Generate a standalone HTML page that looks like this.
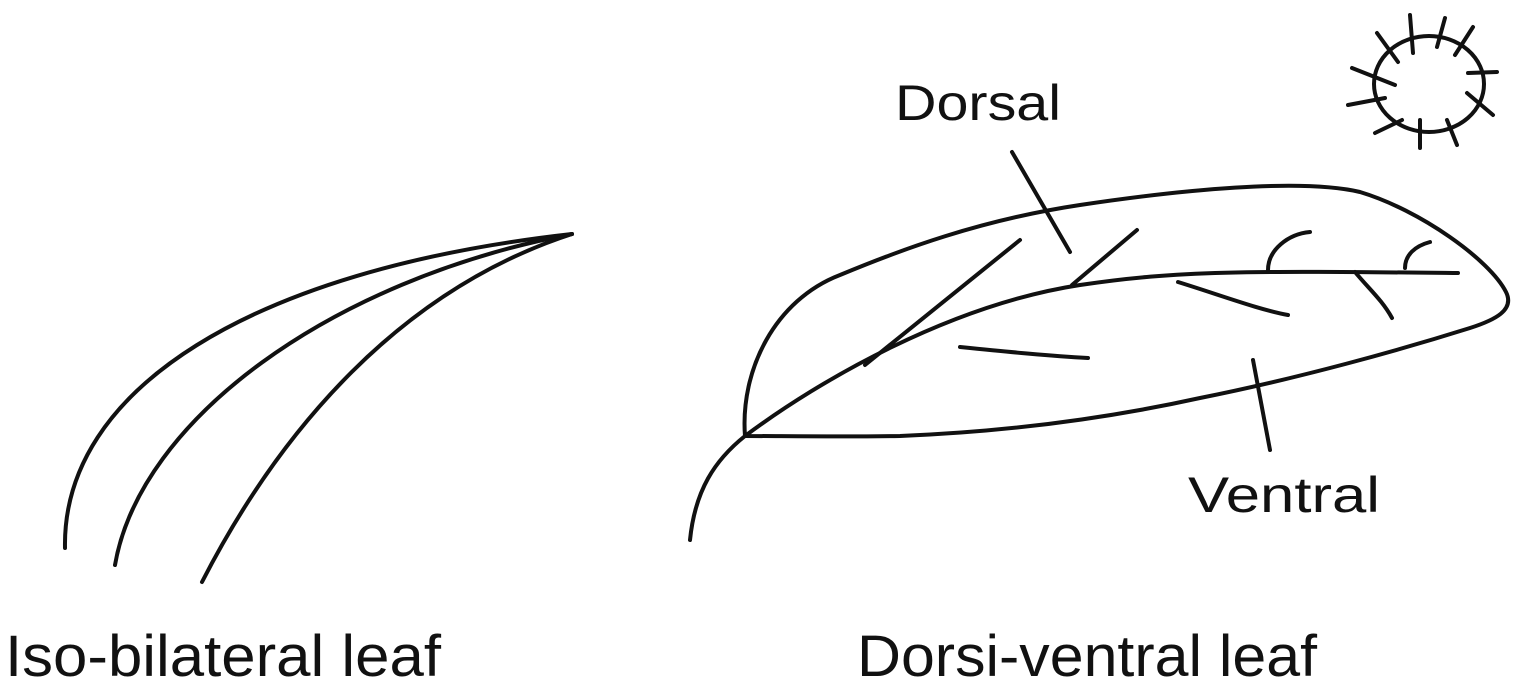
<!DOCTYPE html>
<html><head><meta charset="utf-8"><style>
html,body{margin:0;padding:0;background:#fff;}
svg{display:block}
text{font-family:"Liberation Sans",sans-serif;fill:#111;}
</style></head><body>
<svg width="1528" height="693" viewBox="0 0 1528 693">
<g fill="none" stroke="#111" stroke-width="4" stroke-linecap="round">
  <g>
    <path d="M65,548 C62,390 250,270 572,234"/>
    <path d="M115,565 C140,420 330,280 572,234"/>
    <path d="M202,582 C280,430 400,290 572,234"/>
  </g>
  <g>
    <path d="M745,436 C740,370 775,300 840,275 C900,250 980,220 1080,205 C1180,190 1300,178 1360,192 C1420,210 1490,260 1506,292 C1515,310 1495,320 1470,328 C1400,350 1300,378 1200,398 C1100,420 1000,432 900,436 C840,437 780,436 745,436 Z"/>
    <path d="M690,540 C695,490 715,460 745,436 C820,380 950,305 1080,285 C1180,270 1250,271 1458,273"/>
    <path d="M865,365 L1020,240"/>
    <path d="M1072,285 L1137,230"/>
    <path d="M960,347 C1010,352 1050,356 1088,358"/>
    <path d="M1178,282 C1220,295 1260,310 1288,315"/>
    <path d="M1268,270 C1268,250 1288,234 1310,232"/>
    <path d="M1355,272 C1370,290 1382,300 1392,318"/>
    <path d="M1405,268 C1405,255 1415,246 1430,242"/>
    <path d="M1012,152 L1070,252"/>
    <path d="M1253,360 L1270,450"/>
  </g>
  <g>
    <ellipse cx="1429" cy="84" rx="55" ry="48"/>
    <path d="M1410,15 L1413,53 M1445,18 L1437,47 M1473,27 L1455,55 M1468,73 L1497,72 M1467,93 L1493,115 M1447,120 L1457,145 M1420,120 L1420,148 M1375,133 L1402,120 M1348,105 L1385,98 M1352,68 L1395,85 M1377,33 L1398,62"/>
  </g>
</g>
<text x="895" y="120" font-size="50" textLength="166" lengthAdjust="spacingAndGlyphs">Dorsal</text>
<text x="1188" y="512" font-size="50" textLength="192" lengthAdjust="spacingAndGlyphs">Ventral</text>
<text x="5" y="676" font-size="58" textLength="436" lengthAdjust="spacingAndGlyphs">Iso-bilateral leaf</text>
<text x="857" y="676" font-size="58" textLength="460" lengthAdjust="spacingAndGlyphs">Dorsi-ventral leaf</text>
</svg>
</body></html>
